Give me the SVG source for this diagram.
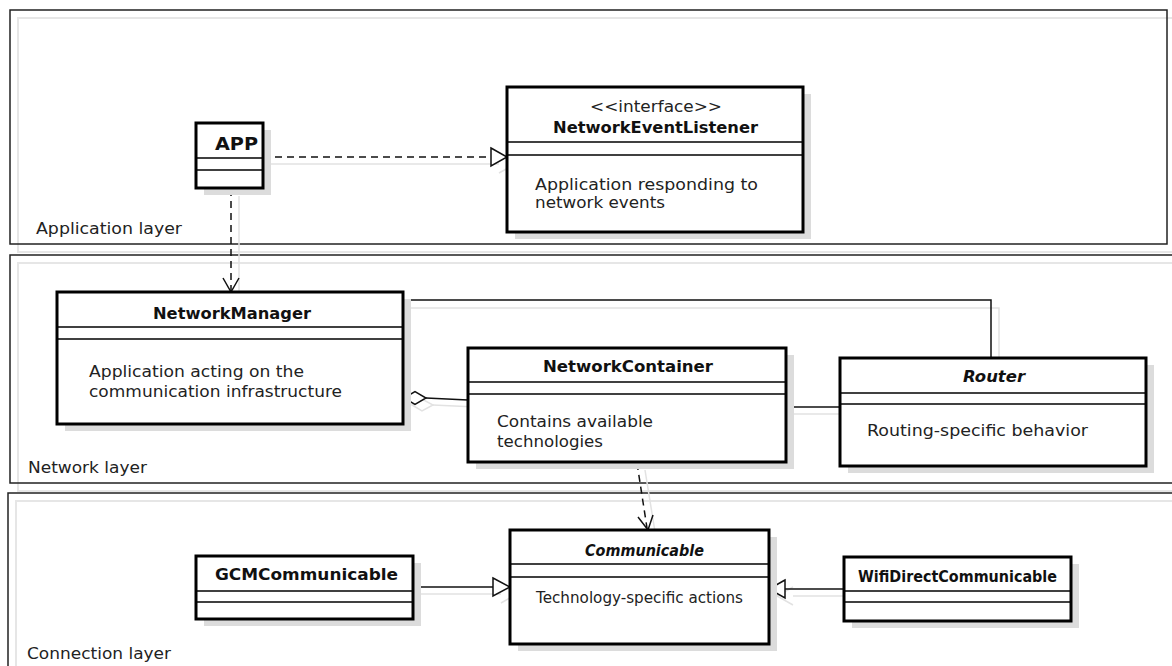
<svg xmlns="http://www.w3.org/2000/svg" width="1172" height="666" viewBox="0 0 1172 666">
<defs>
<style>
.frame{fill:none;stroke:#222;stroke-width:1.5}
.fshadow{fill:none;stroke:#e6e6e6;stroke-width:2}
.box{fill:#fff;stroke:#000;stroke-width:3}
.shadow{fill:#dcdcdc}
.sep{stroke:#000;stroke-width:1.5}
.t{font-family:"DejaVu Sans","Liberation Sans",sans-serif;font-size:16.5px;fill:#222}
.b{font-family:"DejaVu Sans","Liberation Sans",sans-serif;font-size:16px;font-weight:bold;fill:#111}
.bi{font-family:"DejaVu Sans","Liberation Sans",sans-serif;font-size:16px;font-weight:bold;font-style:italic;fill:#111}
.ln{fill:none;stroke:#111;stroke-width:1.5}
.dash{fill:none;stroke:#111;stroke-width:1.5;stroke-dasharray:7 5}
.ls{fill:none;stroke:#e2e2e2;stroke-width:1.5}
.tri{fill:#fff;stroke:#111;stroke-width:1.5}
.tris{fill:none;stroke:#e2e2e2;stroke-width:1.5}
</style>
</defs>
<rect width="1172" height="666" fill="#fff"/>

<g id="application-layer">
<rect class="fshadow" x="18" y="18" width="1157" height="234"/>
<rect class="frame" x="10" y="10" width="1157" height="234"/>
<text class="t" x="36" y="234" textLength="146" lengthAdjust="spacingAndGlyphs">Application layer</text>
</g>
<g id="network-layer">
<rect class="fshadow" x="18" y="263" width="1170" height="228"/>
<rect class="frame" x="10" y="255" width="1180" height="228"/>
<text class="t" x="28" y="473" textLength="119" lengthAdjust="spacingAndGlyphs">Network layer</text>
</g>
<g id="connection-layer">
<rect class="fshadow" x="16" y="501" width="1170" height="200"/>
<rect class="frame" x="8" y="493" width="1180" height="200"/>
<text class="t" x="27" y="659" textLength="144" lengthAdjust="spacingAndGlyphs">Connection layer</text>
</g>

<g id="connectors">
<path class="ls" d="M271 164 H499"/>
<path class="tris" d="M499 155 L515 164 L499 173"/>
<path class="ls" d="M239 196 V299"/>
<path class="ls" d="M411 308 H999 V366"/>
<path class="tris" d="M412 405 L422 399 L433 405 L422 411 Z"/>
<path class="ls" d="M433 405 L476 407"/>
<path class="ls" d="M794 414 L848 414"/>
<path class="ls" d="M645 470 L656 538"/>
<path class="ls" d="M421 594 H501"/>
<path class="tris" d="M501 585 L517 594 L501 603"/>
<path class="ls" d="M852 596 H793"/>
<path class="tris" d="M793 587 L777 596 L793 605"/>
<path class="dash" d="M263 157 H491"/>
<path class="tri" d="M491 148 L507 157 L491 166 Z"/>
<path class="dash" d="M231 189 V291"/>
<path class="ln" d="M223 278 L231 292 L239 278"/>
<path class="ln" d="M403 300 H991 V358"/>
<path class="ln" d="M426 398 L468 400"/>
<path class="tri" d="M404 398 L415 391.5 L426 398 L415 404.5 Z"/>
<path class="ln" d="M786 407 H840"/>
<path class="dash" d="M637 463 L647 528"/>
<path class="ln" d="M638 517 L648 530 L653 515"/>
<path class="ln" d="M413 587 H493"/>
<path class="tri" d="M493 578 L510 587 L493 596 Z"/>
<path class="ln" d="M844 589 H785"/>
<path class="tri" d="M785 580 L769 589 L785 598 Z"/>
</g>

<g id="APP">
<rect class="shadow" x="204" y="130" width="67" height="65"/>
<rect class="box" x="196" y="123" width="67" height="65"/>
<line class="sep" x1="196" y1="158" x2="263" y2="158"/>
<line class="sep" x1="196" y1="170" x2="263" y2="170"/>
<text class="b" x="215" y="150" style="font-size:17px" textLength="43" lengthAdjust="spacingAndGlyphs">APP</text>
</g>

<g id="NetworkEventListener">
<rect class="shadow" x="515" y="94" width="296" height="145"/>
<rect class="box" x="507" y="87" width="296" height="145"/>
<line class="sep" x1="507" y1="142" x2="803" y2="142"/>
<line class="sep" x1="507" y1="155" x2="803" y2="155"/>
<text class="t" x="590" y="112" textLength="132" lengthAdjust="spacingAndGlyphs">&lt;&lt;interface&gt;&gt;</text>
<text class="b" x="553" y="133" textLength="205" lengthAdjust="spacingAndGlyphs">NetworkEventListener</text>
<text class="t" x="535" y="190" textLength="223" lengthAdjust="spacingAndGlyphs">Application responding to</text>
<text class="t" x="535" y="208" textLength="130" lengthAdjust="spacingAndGlyphs">network events</text>
</g>

<g id="NetworkManager">
<rect class="shadow" x="65" y="299" width="346" height="132"/>
<rect class="box" x="57" y="292" width="346" height="132"/>
<line class="sep" x1="57" y1="327" x2="403" y2="327"/>
<line class="sep" x1="57" y1="339" x2="403" y2="339"/>
<text class="b" x="153" y="319" textLength="158" lengthAdjust="spacingAndGlyphs">NetworkManager</text>
<text class="t" x="89" y="377" textLength="215" lengthAdjust="spacingAndGlyphs">Application acting on the</text>
<text class="t" x="89" y="397" textLength="253" lengthAdjust="spacingAndGlyphs">communication infrastructure</text>
</g>

<g id="NetworkContainer">
<rect class="shadow" x="476" y="355" width="318" height="114"/>
<rect class="box" x="468" y="348" width="318" height="114"/>
<line class="sep" x1="468" y1="382" x2="786" y2="382"/>
<line class="sep" x1="468" y1="394" x2="786" y2="394"/>
<text class="b" x="543" y="372" textLength="170" lengthAdjust="spacingAndGlyphs">NetworkContainer</text>
<text class="t" x="497" y="427" textLength="156" lengthAdjust="spacingAndGlyphs">Contains available</text>
<text class="t" x="497" y="447" textLength="106" lengthAdjust="spacingAndGlyphs">technologies</text>
</g>

<g id="Router">
<rect class="shadow" x="848" y="365" width="306" height="108"/>
<rect class="box" x="840" y="358" width="306" height="108"/>
<line class="sep" x1="840" y1="393" x2="1146" y2="393"/>
<line class="sep" x1="840" y1="404" x2="1146" y2="404"/>
<text class="bi" x="963" y="382" textLength="62" lengthAdjust="spacingAndGlyphs">Router</text>
<text class="t" x="867" y="436" textLength="221" lengthAdjust="spacingAndGlyphs">Routing-specific behavior</text>
</g>

<g id="GCMCommunicable">
<rect class="shadow" x="204" y="563" width="217" height="63"/>
<rect class="box" x="196" y="556" width="217" height="63"/>
<line class="sep" x1="196" y1="591" x2="413" y2="591"/>
<line class="sep" x1="196" y1="602" x2="413" y2="602"/>
<text class="b" x="215" y="580" textLength="183" lengthAdjust="spacingAndGlyphs">GCMCommunicable</text>
</g>

<g id="Communicable">
<rect class="shadow" x="518" y="537" width="259" height="114"/>
<rect class="box" x="510" y="530" width="259" height="114"/>
<line class="sep" x1="510" y1="564" x2="769" y2="564"/>
<line class="sep" x1="510" y1="577" x2="769" y2="577"/>
<text class="bi" x="585" y="556" style="font-size:15.5px" textLength="119" lengthAdjust="spacingAndGlyphs">Communicable</text>
<text class="t" x="536" y="603" style="font-size:16px" textLength="207" lengthAdjust="spacingAndGlyphs">Technology-specific actions</text>
</g>

<g id="WifiDirectCommunicable">
<rect class="shadow" x="852" y="564" width="227" height="64"/>
<rect class="box" x="844" y="557" width="227" height="64"/>
<line class="sep" x1="844" y1="591" x2="1071" y2="591"/>
<line class="sep" x1="844" y1="602" x2="1071" y2="602"/>
<text class="b" x="858" y="582" style="font-size:15.5px" textLength="199" lengthAdjust="spacingAndGlyphs">WifiDirectCommunicable</text>
</g>
</svg>
